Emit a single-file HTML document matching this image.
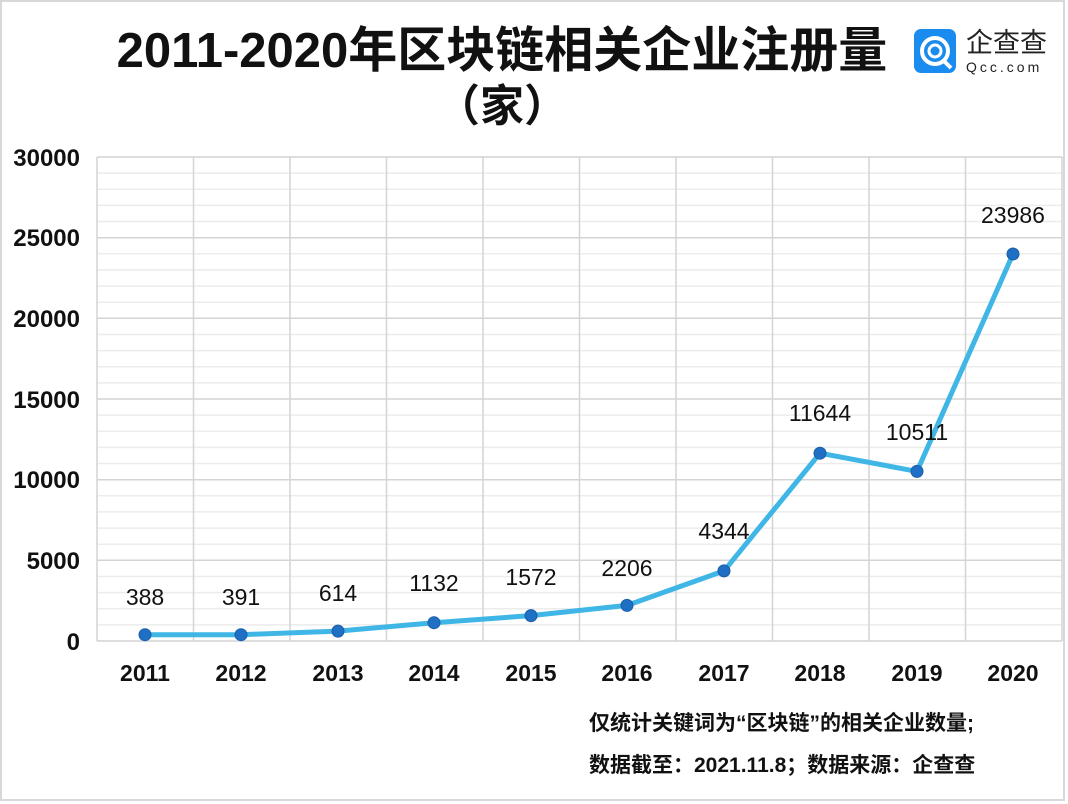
<!DOCTYPE html>
<html><head><meta charset="utf-8"><style>
body{margin:0;background:#fff}
svg{display:block;font-family:"Liberation Sans","Noto Sans CJK SC",sans-serif}
</style></head><body>
<svg width="1068" height="804" viewBox="0 0 1068 804">
<rect x="0" y="0" width="1068" height="804" fill="#fff"/>
<rect x="1" y="1" width="1063" height="799" fill="none" stroke="#d8d8d8" stroke-width="2"/>
<text x="502" y="67" text-anchor="middle" font-size="49" font-weight="bold" fill="#111">2011-2020年区块链相关企业注册量</text>
<text x="502" y="121" text-anchor="middle" font-size="44" font-weight="bold" fill="#111">（家）</text>
<rect x="914" y="29" width="42" height="44" rx="7" fill="#1a8cf0"/>
<circle cx="935" cy="51" r="13" fill="none" stroke="#fff" stroke-width="4"/>
<circle cx="935" cy="51" r="6" fill="none" stroke="#fff" stroke-width="3"/>
<line x1="943" y1="60" x2="951" y2="68" stroke="#fff" stroke-width="4"/>
<text x="966" y="52" font-size="27" fill="#222">企查查</text>
<text x="966" y="72" font-size="14" fill="#222" letter-spacing="3">Qcc.com</text>
<g stroke="#ececec" stroke-width="1.5">
<line x1="97" y1="173.1" x2="1062" y2="173.1"/><line x1="97" y1="189.3" x2="1062" y2="189.3"/><line x1="97" y1="205.4" x2="1062" y2="205.4"/><line x1="97" y1="221.5" x2="1062" y2="221.5"/>
<line x1="97" y1="253.8" x2="1062" y2="253.8"/><line x1="97" y1="269.9" x2="1062" y2="269.9"/><line x1="97" y1="286.1" x2="1062" y2="286.1"/><line x1="97" y1="302.2" x2="1062" y2="302.2"/>
<line x1="97" y1="334.5" x2="1062" y2="334.5"/><line x1="97" y1="350.6" x2="1062" y2="350.6"/><line x1="97" y1="366.7" x2="1062" y2="366.7"/><line x1="97" y1="382.9" x2="1062" y2="382.9"/>
<line x1="97" y1="415.1" x2="1062" y2="415.1"/><line x1="97" y1="431.3" x2="1062" y2="431.3"/><line x1="97" y1="447.4" x2="1062" y2="447.4"/><line x1="97" y1="463.5" x2="1062" y2="463.5"/>
<line x1="97" y1="495.8" x2="1062" y2="495.8"/><line x1="97" y1="511.9" x2="1062" y2="511.9"/><line x1="97" y1="528.1" x2="1062" y2="528.1"/><line x1="97" y1="544.2" x2="1062" y2="544.2"/>
<line x1="97" y1="576.5" x2="1062" y2="576.5"/><line x1="97" y1="592.6" x2="1062" y2="592.6"/><line x1="97" y1="608.7" x2="1062" y2="608.7"/><line x1="97" y1="624.9" x2="1062" y2="624.9"/>
</g>
<g stroke="#d4d4d4" stroke-width="1.5">
<line x1="97" y1="157" x2="1062" y2="157"/><line x1="97" y1="237.7" x2="1062" y2="237.7"/><line x1="97" y1="318.3" x2="1062" y2="318.3"/><line x1="97" y1="399" x2="1062" y2="399"/><line x1="97" y1="479.7" x2="1062" y2="479.7"/><line x1="97" y1="560.3" x2="1062" y2="560.3"/><line x1="97" y1="641" x2="1062" y2="641"/>
<line x1="97" y1="157" x2="97" y2="641"/><line x1="193.5" y1="157" x2="193.5" y2="641"/><line x1="290" y1="157" x2="290" y2="641"/><line x1="386.5" y1="157" x2="386.5" y2="641"/><line x1="483" y1="157" x2="483" y2="641"/><line x1="579.5" y1="157" x2="579.5" y2="641"/><line x1="676" y1="157" x2="676" y2="641"/><line x1="772.5" y1="157" x2="772.5" y2="641"/><line x1="869" y1="157" x2="869" y2="641"/><line x1="965.5" y1="157" x2="965.5" y2="641"/><line x1="1062" y1="157" x2="1062" y2="641"/>
</g>
<g font-size="24" font-weight="bold" fill="#111" text-anchor="end">
<text x="80" y="166">30000</text><text x="80" y="246">25000</text><text x="80" y="327">20000</text><text x="80" y="408">15000</text><text x="80" y="488">10000</text><text x="80" y="569">5000</text><text x="80" y="650">0</text>
</g>
<g font-size="23" font-weight="bold" fill="#111" text-anchor="middle">
<text x="145" y="681">2011</text><text x="241" y="681">2012</text><text x="338" y="681">2013</text><text x="434" y="681">2014</text><text x="531" y="681">2015</text><text x="627" y="681">2016</text><text x="724" y="681">2017</text><text x="820" y="681">2018</text><text x="917" y="681">2019</text><text x="1013" y="681">2020</text>
</g>
<polyline fill="none" stroke="#3fb6e6" stroke-width="5" stroke-linejoin="round" points="145,634.7 241,634.7 338,631.1 434,622.7 531,615.6 627,605.4 724,570.9 820,453.2 917,471.4 1013,254"/>
<g fill="#1f6fc4" stroke="#1a5fa8" stroke-width="1">
<circle cx="145" cy="634.7" r="6"/><circle cx="241" cy="634.7" r="6"/><circle cx="338" cy="631.1" r="6"/><circle cx="434" cy="622.7" r="6"/><circle cx="531" cy="615.6" r="6"/><circle cx="627" cy="605.4" r="6"/><circle cx="724" cy="570.9" r="6"/><circle cx="820" cy="453.2" r="6"/><circle cx="917" cy="471.4" r="6"/><circle cx="1013" cy="254" r="6"/>
</g>
<g font-size="23" fill="#111" text-anchor="middle">
<text x="145" y="605">388</text><text x="241" y="605">391</text><text x="338" y="601">614</text><text x="434" y="591">1132</text><text x="531" y="585">1572</text><text x="627" y="576">2206</text><text x="724" y="539">4344</text><text x="820" y="421">11644</text><text x="917" y="440">10511</text><text x="1013" y="223">23986</text>
</g>
<g font-size="21" font-weight="bold" fill="#111">
<text x="589" y="730">仅统计关键词为“区块链”的相关企业数量;</text>
<text x="589" y="772">数据截至：2021.11.8；数据来源：企查查</text>
</g>
</svg>
</body></html>
